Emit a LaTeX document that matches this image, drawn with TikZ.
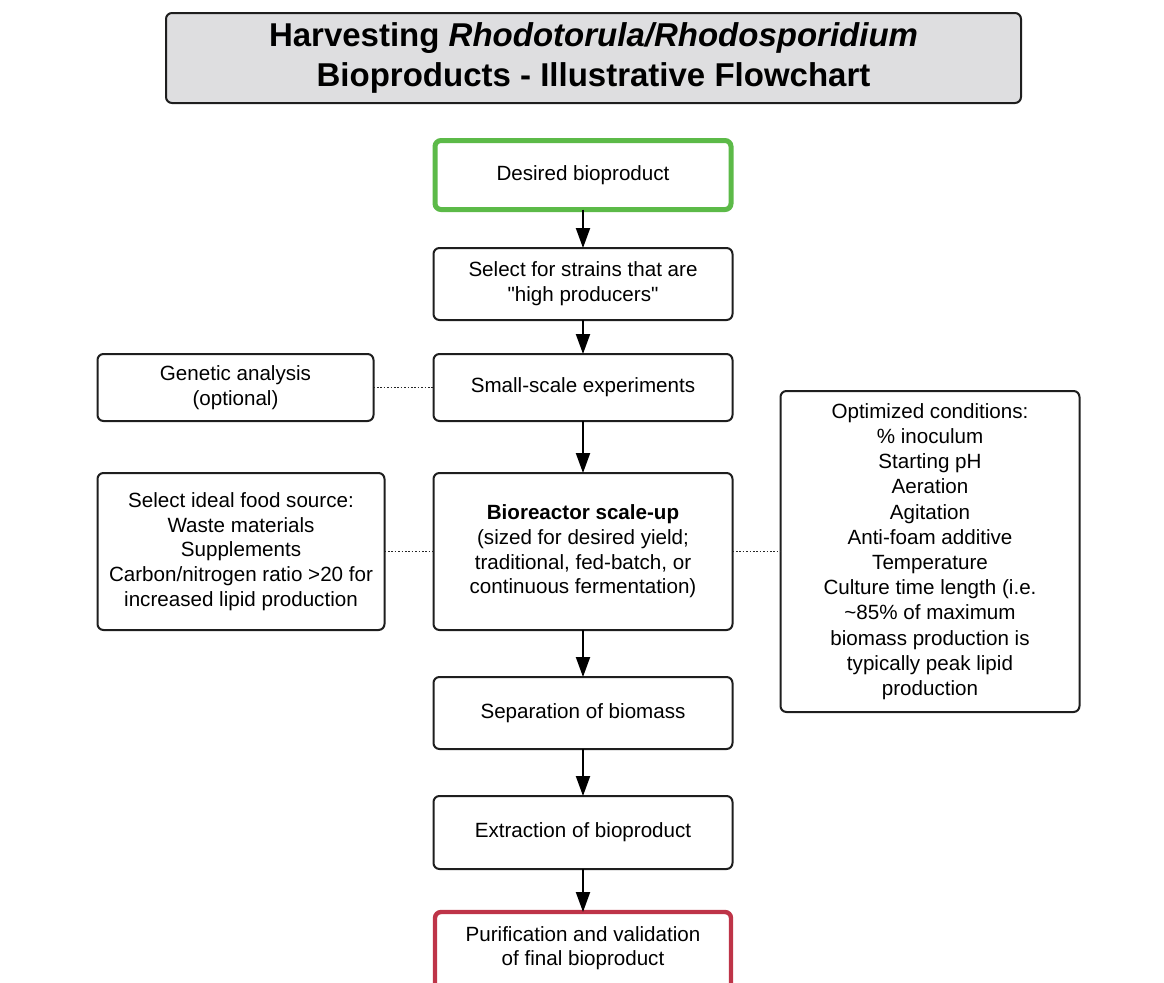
\documentclass[tikz,border=0pt]{standalone}
\usepackage{fontspec}
\setmainfont{Liberation Sans}
\usepackage{tikz}
\usetikzlibrary{arrows.meta, positioning, calc}

\definecolor{startgreen}{RGB}{92,186,72}
\definecolor{endred}{RGB}{190,52,72}
\definecolor{titlegray}{RGB}{222,222,224}
\definecolor{edgegray}{RGB}{30,30,30}

\begin{document}
\begin{tikzpicture}[
    node distance=17pt and 24pt,
    % --- BASE STYLES ---
    box/.style={rectangle, rounded corners=3pt, draw=edgegray, line width=1pt, fill=white, align=center, outer sep=0pt,
                font=\fontsize{10.3}{12.35}\selectfont, minimum width=149.5pt, minimum height=36pt, inner sep=2pt},
    sidebox/.style={box, minimum width=#1},
    titlebox/.style={rectangle, rounded corners=3pt, draw=edgegray, line width=1pt, fill=titlegray, align=center,
                font=\fontsize{16.5}{20}\selectfont\bfseries, minimum width=427.5pt, minimum height=45pt},
    startbox/.style={box, draw=startgreen, line width=2.5pt, minimum width=148pt, minimum height=34.5pt},
    endbox/.style={box, draw=endred, line width=2.2pt, minimum width=148pt, minimum height=44pt},
    flow/.style={draw=black, line width=1pt, -{Triangle[length=10pt, width=7pt]}},
    note/.style={draw=black!85, line width=0.8pt, dash pattern=on 0.8pt off 0.9pt}
]
\useasboundingbox (0pt,0pt) rectangle (582pt,-491pt);

% ==========================================
% TITLE
% ==========================================
\node[titlebox] (title) at (296.75pt,-29pt) {Harvesting \textit{Rhodotorula/Rhodosporidium}\\Bioproducts - Illustrative Flowchart};

% ==========================================
% MAIN COLUMN
% ==========================================
\node[startbox] (desired) at (291.5pt,-87.5pt) {Desired bioproduct};
\node[box, below=19.25pt of desired] (strains) {Select for strains that are\\\textquotedbl high producers\textquotedbl};
\node[box, below=17pt of strains, minimum height=33.5pt] (smallscale) {\raisebox{-1pt}{Small-scale experiments}};
\node[box, below=26pt of smallscale, minimum height=78.5pt] (bioreactor) {\textbf{Bioreactor scale-up}\\(sized for desired yield;\\traditional, fed-batch, or\\continuous fermentation)};
\node[box, below=23.5pt of bioreactor] (separation) {Separation of biomass};
\node[box, below=23.5pt of separation, minimum height=36.5pt] (extraction) {Extraction of bioproduct};
\node[endbox, below=21.5pt of extraction] (purification) {Purification and validation\\of final bioproduct\\[-2.4pt]};

\draw[flow] (desired) -- (strains);
\draw[flow] (strains) -- (smallscale);
\draw[flow] (smallscale) -- (bioreactor);
\draw[flow] (bioreactor) -- (separation);
\draw[flow] (separation) -- (extraction);
\draw[flow] (extraction) -- (purification);

% ==========================================
% SIDE BOXES (dotted links)
% ==========================================
\node[sidebox=138pt, left=30pt of smallscale, minimum height=33.5pt] (genetic) {Genetic analysis\\(optional)};
\node[sidebox=143.5pt, left=24.5pt of bioreactor, minimum height=78.5pt] (foodsource) {Select ideal food source:\\Waste materials\\Supplements\\Carbon/nitrogen ratio >20 for\\increased lipid production};
\node[box, right=24pt of bioreactor, minimum height=160.5pt, font=\fontsize{10.3}{12.6}\selectfont] (conditions) {Optimized conditions:\\\% inoculum\\Starting pH\\Aeration\\Agitation\\Anti-foam additive\\Temperature\\Culture time length (i.e.\\\textasciitilde85\% of maximum\\biomass production is\\typically peak lipid\\production};

\draw[note] (genetic) -- (smallscale);
\draw[note] (foodsource) -- (bioreactor);
\draw[note] (bioreactor) -- (conditions);

\end{tikzpicture}
\end{document}
